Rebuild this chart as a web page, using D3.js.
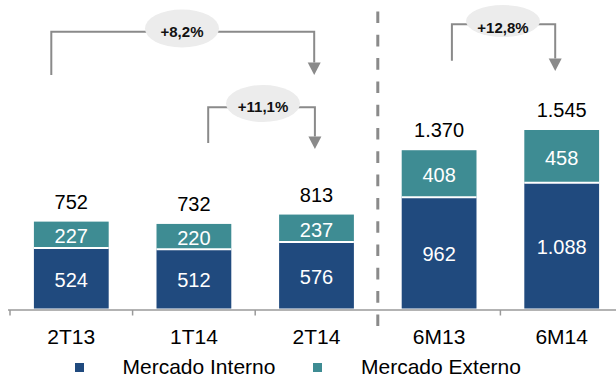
<!DOCTYPE html>
<html>
<head>
<meta charset="utf-8">
<script src="https://cdn.jsdelivr.net/npm/d3@7"></script>
<style>
  html, body { margin: 0; padding: 0; background: #fff; }
  svg { display: block; font-family: "Liberation Sans", Arial, sans-serif; }
</style>
</head>
<body>
<svg id="chart" width="616" height="376"></svg>
<script>
// Receita por mercado (R$ milhões)
const categories = ["2T13", "1T14", "2T14", "6M13", "6M14"];
const mercadoInterno = [524, 512, 576, 962, 1088];
const mercadoExterno = [227, 220, 237, 408, 458];
const totals = [752, 732, 813, 1370, 1545];
const seriesNames = ["Mercado Interno", "Mercado Externo"];

// Variações destacadas entre períodos
const growthFrom = ["2T13", "1T14", "6M13"];
const growthTo = ["2T14", "2T14", "6M14"];
const growthLabels = ["+8,2%", "+11,1%", "+12,8%"];

const fmt = v => d3.format(",")(v).replace(/,/g, ".");

const colInterno = "#204A7E";
const colExterno = "#3E8C93";
const gray = "#8A8A8A";

const svg = d3.select("#chart");

const x = d3.scaleBand()
  .domain(categories)
  .range([10, 623])
  .paddingInner(0.39)
  .paddingOuter(0.195);

const y = d3.scaleLinear()
  .domain([0, d3.max(totals)])
  .range([308.5, 130]);

const step = x.step();
const bw = x.bandwidth();
const boundary = c => x(c) - step * x.paddingInner() / 2;

// Barras empilhadas
const rows = categories.map((c, i) => ({ c, mi: mercadoInterno[i], me: mercadoExterno[i], t: totals[i] }));

const g = svg.append("g");

g.selectAll("rect.me").data(rows).join("rect")
  .attr("class", "me")
  .attr("x", d => x(d.c)).attr("width", bw)
  .attr("y", d => y(d.t)).attr("height", d => y(d.mi) - y(d.t))
  .attr("fill", colExterno);

g.selectAll("rect.mi").data(rows).join("rect")
  .attr("class", "mi")
  .attr("x", d => x(d.c)).attr("width", bw)
  .attr("y", d => y(d.mi)).attr("height", d => y(0) - y(d.mi))
  .attr("fill", colInterno);

// separador branco entre os segmentos
g.selectAll("line.sep").data(rows).join("line")
  .attr("x1", d => x(d.c)).attr("x2", d => x(d.c) + bw)
  .attr("y1", d => y(d.mi)).attr("y2", d => y(d.mi))
  .attr("stroke", "#fff").attr("stroke-width", 2);

// rótulos dos segmentos
g.selectAll("text.lmi").data(rows).join("text")
  .attr("x", d => x(d.c) + bw / 2)
  .attr("y", d => (y(d.mi) + y(0)) / 2 + 8.5)
  .attr("text-anchor", "middle").attr("fill", "#fff").attr("font-size", 20)
  .text(d => fmt(d.mi));

g.selectAll("text.lme").data(rows).join("text")
  .attr("x", d => x(d.c) + bw / 2)
  .attr("y", d => (y(d.t) + y(d.mi)) / 2 + 8.5)
  .attr("text-anchor", "middle").attr("fill", "#fff").attr("font-size", 20)
  .text(d => fmt(d.me));

// totais
g.selectAll("text.tot").data(rows).join("text")
  .attr("x", d => x(d.c) + bw / 2)
  .attr("y", d => y(d.t) - 13)
  .attr("text-anchor", "middle").attr("fill", "#000").attr("font-size", 20)
  .text(d => fmt(d.t));

// Eixo horizontal
const axisY = 310;
svg.append("line")
  .attr("x1", 8).attr("x2", 616).attr("y1", axisY).attr("y2", axisY)
  .attr("stroke", "#9A9A9A").attr("stroke-width", 1.5);

svg.selectAll("line.tick").data(categories.filter((c, i) => i !== 3)).join("line")
  .attr("class", "tick")
  .attr("x1", d => boundary(d)).attr("x2", d => boundary(d))
  .attr("y1", axisY).attr("y2", axisY + 5.5)
  .attr("stroke", "#9A9A9A").attr("stroke-width", 1.5);

const axis = svg.append("g")
  .attr("transform", `translate(0,${axisY})`)
  .call(d3.axisBottom(x).tickSize(0).tickPadding(0));
axis.select(".domain").remove();
axis.selectAll("text")
  .attr("font-family", "Liberation Sans, Arial, sans-serif")
  .attr("font-size", 21).attr("fill", "#000")
  .attr("dy", null).attr("y", 34.3);

// Linha tracejada separando trimestres e semestres
const sepX = boundary("6M13");
svg.append("line")
  .attr("x1", sepX).attr("x2", sepX).attr("y1", 11.5).attr("y2", 337)
  .attr("stroke", gray).attr("stroke-width", 3)
  .attr("stroke-dasharray", "11.6,11.7");

// Setas de variação
const annoLayout = [
  { dxL: -20, dxR: -2.3, top: 31.7, leftBottom: 75, tip: 75, ex: 182, ey: 28.5, ry: 19, ty: 37 },
  { dxL: 14.3, dxR: -1.6, top: 107.3, leftBottom: 143, tip: 149, ex: 263, ey: 103.5, ry: 18.5, ty: 111.5 },
  { dxL: 12.8, dxR: -6.5, top: 24.3, leftBottom: 60.7, tip: 71, ex: 503, ey: 21, ry: 16, ty: 33 }
];

const annos = growthLabels.map((label, i) => Object.assign({ label, from: growthFrom[i], to: growthTo[i] }, annoLayout[i]));

const ag = svg.append("g");
annos.forEach(a => {
  const xl = x(a.from) + bw / 2 + a.dxL;
  const xr = x(a.to) + bw / 2 + a.dxR;
  const headH = 12.5, headW = 13;
  ag.append("path")
    .attr("d", `M${xl},${a.leftBottom}V${a.top}H${xr}V${a.tip - headH}`)
    .attr("fill", "none").attr("stroke", gray).attr("stroke-width", 2);
  ag.append("path")
    .attr("d", `M${xr - headW / 2},${a.tip - headH}L${xr + headW / 2},${a.tip - headH}L${xr},${a.tip}Z`)
    .attr("fill", gray);
  ag.append("ellipse")
    .attr("cx", a.ex).attr("cy", a.ey).attr("rx", 37).attr("ry", a.ry)
    .attr("fill", "#ECECEC");
  ag.append("text")
    .attr("x", a.ex).attr("y", a.ty)
    .attr("text-anchor", "middle").attr("font-size", 15).attr("font-weight", "bold")
    .attr("fill", "#111")
    .text(a.label);
});

// Legenda
const legendItems = [
  { name: seriesNames[0], color: colInterno, sx: 75, tx: 122.5 },
  { name: seriesNames[1], color: colExterno, sx: 313, tx: 361 }
];
const lg = svg.append("g");
legendItems.forEach(l => {
  lg.append("rect").attr("x", l.sx).attr("y", 363).attr("width", 9).attr("height", 9).attr("fill", l.color);
  lg.append("text").attr("x", l.tx).attr("y", 373.5).attr("font-size", 21).attr("fill", "#000").text(l.name);
});
</script>
</body>
</html>
